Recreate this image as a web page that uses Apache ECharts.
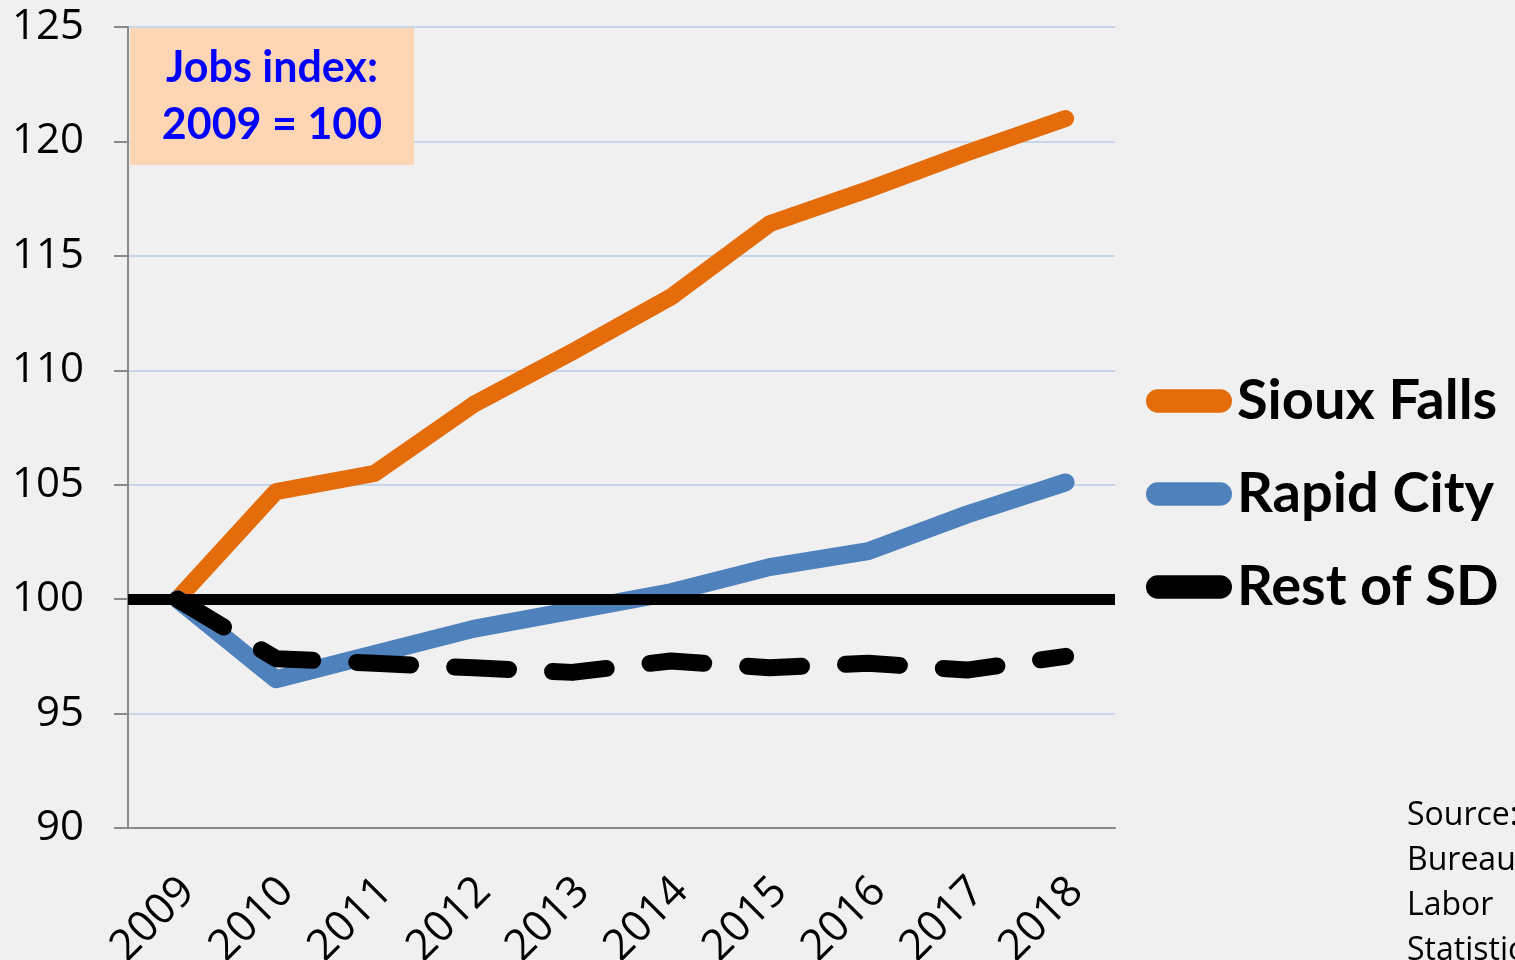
<!DOCTYPE html>
<html>
<head>
<meta charset="utf-8">
<script src="https://cdn.jsdelivr.net/npm/echarts@6/dist/echarts.min.js"></script>
<style>
  html, body { margin: 0; padding: 0; background: #f0f0f0; }
  #chart { width: 1515px; height: 960px; }
</style>
</head>
<body>
<div id="chart"></div>
<script>
// index values, 2009 = 100
let years = ["2009", "2010", "2011", "2012", "2013", "2014", "2015", "2016", "2017", "2018"];
let siouxFalls = [100, 104.7, 105.5, 108.5, 110.8, 113.2, 116.4, 117.9, 119.5, 121.0];
let rapidCity = [100, 96.5, 97.6, 98.7, 99.5, 100.3, 101.4, 102.1, 103.7, 105.1];
let restOfSD = [100, 97.4, 97.2, 97.0, 96.8, 97.3, 97.0, 97.2, 96.9, 97.5];
let baseValue = 100;

let pill = 'path://M12,0L76,0A12,12,0,0,1,76,24L12,24A12,12,0,0,1,12,0Z';

let element = document.getElementById("chart");
let myChart = echarts.init(element);

let option = {
    backgroundColor: "#f0f0f0",
    animation: false,
    grid: {left: 128, top: 27, right: 400, bottom: 132, outerBoundsMode: "none", containLabel: false},
    legend: {
        orient: "vertical",
        left: 1141,
        top: 366,
        itemWidth: 86,
        itemHeight: 25,
        itemGap: 33,
        textStyle: {fontFamily: "Lato", fontWeight: "bold", fontSize: 56, lineHeight: 60, color: "#000"},
        data: [
            {name: "Sioux Falls", icon: pill},
            {name: "Rapid City", icon: pill},
            {name: "Rest of SD", icon: pill}
        ]
    },
    xAxis: {
        type: "category",
        data: years,
        boundaryGap: true,
        axisLine: {lineStyle: {color: "#8a8a8a", width: 2}},
        axisTick: {length: 15, lineStyle: {color: "#8a8a8a", width: 2}},
        axisLabel: {
            rotate: 45, margin: 46, verticalAlign: "top", lineHeight: 30,
            fontFamily: "Open Sans", fontSize: 43, color: "#000"
        }
    },
    yAxis: {
        type: "value",
        min: 90,
        max: 125,
        interval: 5,
        axisLine: {show: true, lineStyle: {color: "#8a8a8a", width: 2}},
        axisTick: {show: true, length: 14, lineStyle: {color: "#8a8a8a", width: 2}},
        axisLabel: {margin: 44, fontFamily: "Open Sans", fontSize: 42, color: "#000"},
        splitLine: {lineStyle: {color: "#b9cde9", width: 1.5}}
    },
    series: [
        {
            name: "Sioux Falls",
            type: "line",
            data: siouxFalls,
            symbol: "none",
            z: 2,
            itemStyle: {color: "#e46c0a"},
            lineStyle: {color: "#e46c0a", width: 17, cap: "round", join: "round"}
        },
        {
            name: "Rapid City",
            type: "line",
            data: rapidCity,
            symbol: "none",
            z: 3,
            itemStyle: {color: "#4f81bd"},
            lineStyle: {color: "#4f81bd", width: 18, cap: "round", join: "round"}
        },
        {
            name: "Rest of SD",
            type: "line",
            data: restOfSD,
            symbol: "none",
            z: 10,
            itemStyle: {color: "#000"},
            lineStyle: {color: "#000", width: 17, type: [54, 44], cap: "round", join: "round"},
            markLine: {
                silent: true,
                symbol: "none",
                label: {show: false},
                lineStyle: {color: "#000", width: 11, type: "solid"},
                data: [{yAxis: baseValue}]
            }
        }
    ],
    graphic: [
        {
            type: "rect",
            left: 130, top: 28,
            shape: {width: 284, height: 137},
            style: {fill: "#fcd5b4"},
            z: 20
        },
        {
            type: "text",
            x: 272, y: 40,
            style: {
                text: "Jobs index:\n2009 = 100",
                align: "center",
                fill: "#0000ff",
                fontFamily: "Lato", fontWeight: "bold", fontSize: 43, lineHeight: 57
            },
            z: 21
        },
        {
            type: "text",
            left: 1407, top: 793,
            style: {
                text: "Source:\nBureau of\nLabor\nStatistics",
                fill: "#000",
                fontFamily: "Open Sans", fontSize: 32, lineHeight: 45
            },
            z: 21
        }
    ]
};

myChart.setOption(option);
window.onresize = function () {
    myChart.resize();
};
</script>
</body>
</html>
